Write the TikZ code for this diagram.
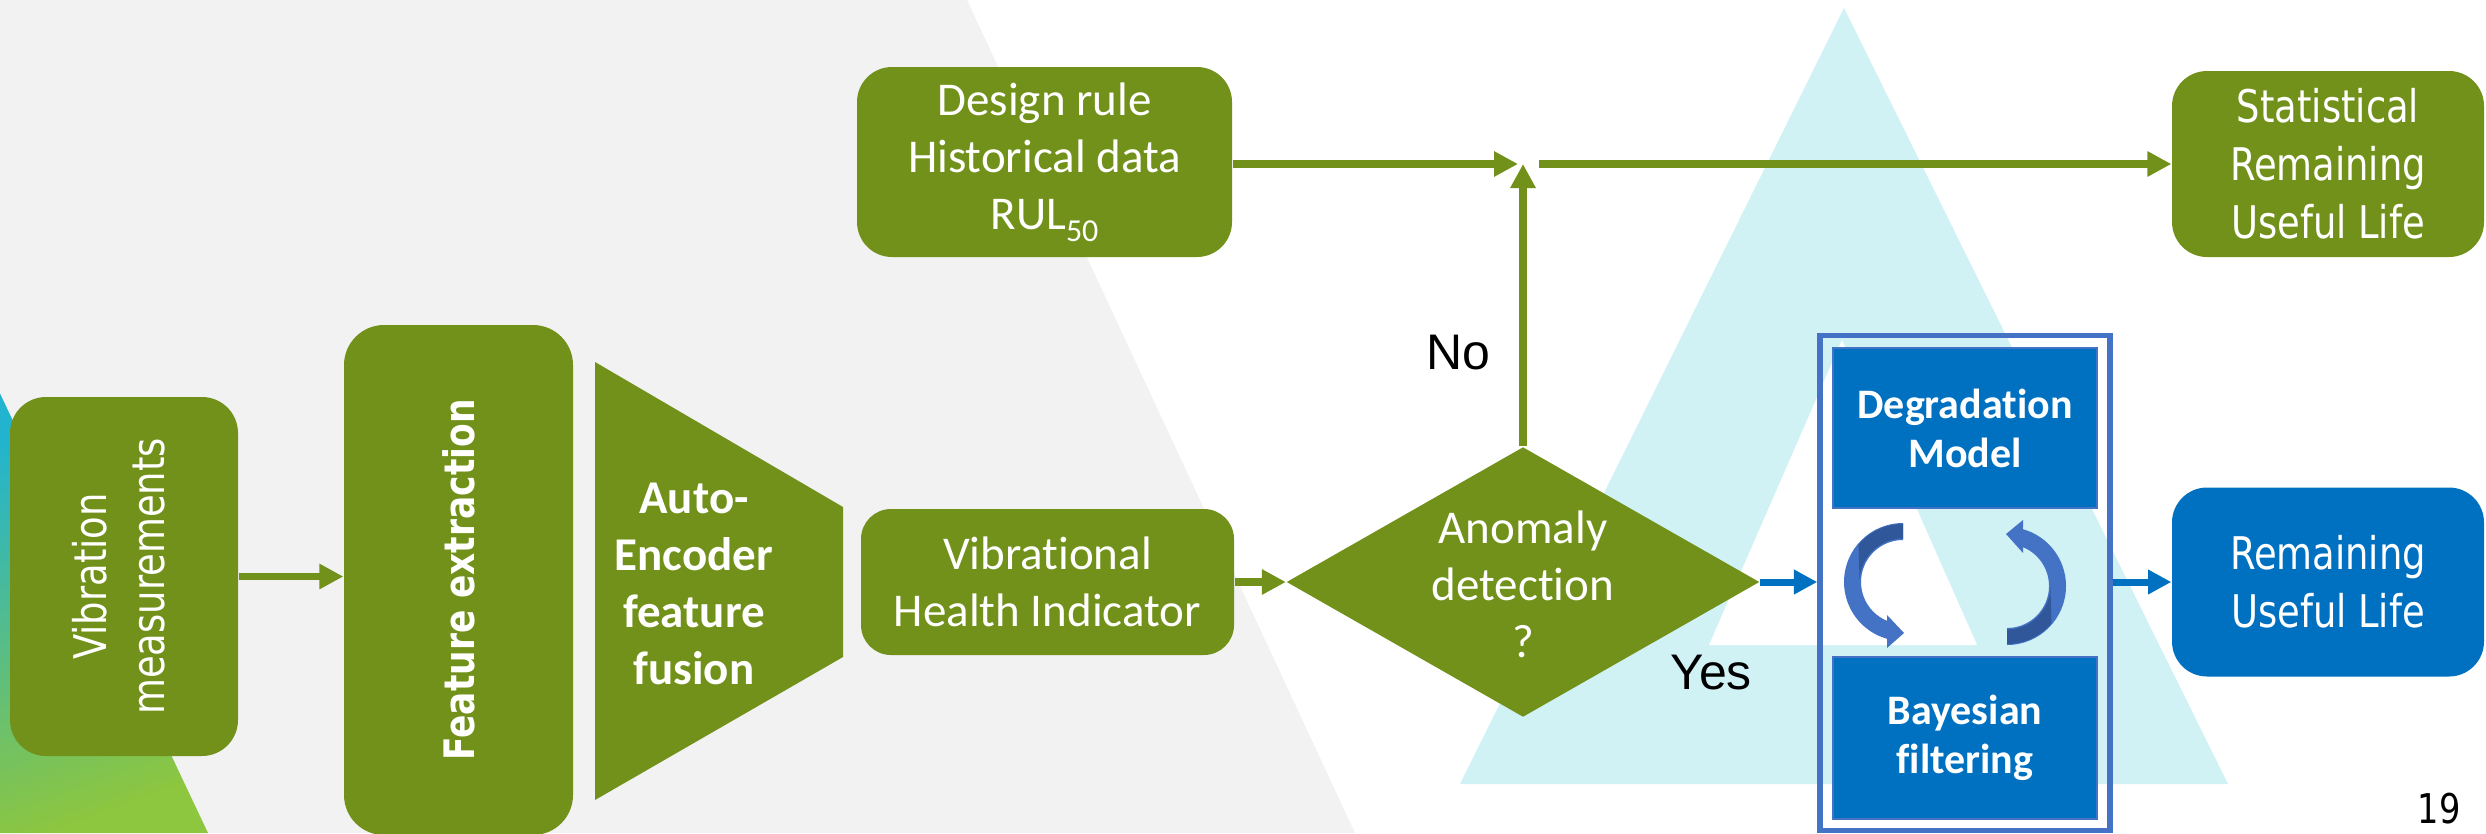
\documentclass[tikz,border=0pt]{standalone}
\usepackage{fontspec}
\setmainfont{Carlito}[Ligatures=CommonOff]
\newfontfamily\tahomalike[FakeStretch=0.82]{DejaVu Sans}
\newfontfamily\arialike{Liberation Sans}
\usetikzlibrary{arrows.meta,shapes.geometric}

\definecolor{leafgreen}{HTML}{72911A}
\definecolor{ocean}{HTML}{0070C0}
\definecolor{frameblue}{HTML}{4472C4}
\definecolor{darkribbon}{HTML}{30579A}
\definecolor{paper}{HTML}{F2F2F2}
\definecolor{skycyan}{HTML}{D1F2F5}
\definecolor{tealtone}{HTML}{22B4CE}
\definecolor{limetone}{HTML}{8DC63F}

\begin{document}
\begin{tikzpicture}[x=0.3pt,y=-0.3pt,
  calib/.style={font=\fontsize{14.1}{17.1}\selectfont},
  wide/.style={font=\tahomalike\fontsize{13.5}{17.4}\selectfont},
  greenbox/.style={fill=leafgreen, text=white, align=center, inner sep=0pt},
  bluebox/.style={fill=ocean, text=white, align=center, inner sep=0pt},
  garrow/.style={draw=leafgreen, line width=2.25pt, -{Triangle[length=7.2pt,width=7.2pt]}},
  barrow/.style={draw=ocean, line width=2.1pt, -{Triangle[length=7pt,width=7pt]}},
  modelbox/.style={fill=ocean, draw=frameblue, line width=0.6pt, text=white, align=center,
    inner sep=0pt, minimum width=79.2pt, font=\bfseries\fontsize{12.6}{14.7}\selectfont},
  caption/.style={font=\arialike\fontsize{15}{18}\selectfont, inner sep=0pt}
]
% canvas
\useasboundingbox (0,0) rectangle (2486,833);
\fill[white] (0,0) rectangle (2486,833);

% background decoration
\fill[paper] (0,0) -- (967,0) -- (1355,833) -- (0,833) -- cycle;
\shade[top color=tealtone, bottom color=limetone, shading angle=20]
  (-4,385) -- (208,833) -- (-4,833) -- cycle;
\fill[skycyan] (1844,8) -- (2228,784) -- (1460,784) -- cycle;
\fill[white] (1842,340) -- (1977,645) -- (1709,645) -- cycle;

% left chain
\node[greenbox, rounded corners=10.8pt, minimum width=68.4pt, minimum height=107.7pt] (vib) at (124,576.5)
  {\rotatebox{90}{\tahomalike\fontsize{13.5}{17.4}\selectfont\begin{tabular}{@{}c@{}}Vibration\\measurements\end{tabular}}};
\node[greenbox, rounded corners=12pt, minimum width=68.7pt, minimum height=153pt] (feat) at (458.5,580)
  {\rotatebox{90}{\tahomalike\bfseries\fontsize{12.6}{15}\selectfont Feature extraction}};
\fill[leafgreen] (595,362) -- (843,507) -- (843,657) -- (595,800) -- cycle;
\node[calib, text=white, align=center, inner sep=0pt] (ae) at (694,584)
  {\bfseries Auto-\\\bfseries Encoder\\\bfseries feature\\\bfseries fusion};
\node[greenbox, calib, rounded corners=9pt, minimum width=111.9pt, minimum height=43.8pt] (vhi) at (1047.5,582)
  {Vibrational\\Health Indicator};

% decision
\node[diamond, fill=leafgreen, minimum width=141.9pt, minimum height=81pt, inner sep=0pt] (dia) at (1523,582) {};
\node[calib, text=white, align=center, inner sep=0pt] (diatext) at (1523,584) {Anomaly\\detection\\?};

% statistical branch
\node[greenbox, calib, rounded corners=10.5pt, minimum width=112.5pt, minimum height=57pt] (design) at (1044.5,162)
  {Design rule\\Historical data\\RUL\raisebox{-3.6pt}{\fontsize{9.6}{10}\selectfont 50}};
\node[greenbox, wide, rounded corners=10.5pt, minimum width=93.6pt, minimum height=55.8pt] (stat) at (2328,164)
  {Statistical\\Remaining\\Useful Life};

% model-based branch
\node[draw=frameblue, line width=1.65pt, minimum width=87pt, minimum height=148.5pt, inner sep=0pt] (frame) at (1965,583) {};
\node[modelbox, minimum height=48pt] (deg) at (1965,428) {Degradation\\Model};
\node[modelbox, minimum height=48.6pt] (bay) at (1965,738) {Bayesian\\filtering};

% update loop arrows
\begin{scope}[shift={(1903,582)}]
  \fill[frameblue] (270:59) arc[start angle=270,end angle=105.7,radius=59] -- (-16,66) -- (1,51)
    -- (-16,33) -- (112.4:42) arc[start angle=112.4,end angle=270,radius=42] -- cycle;
  \fill[darkribbon] (270:58) arc[start angle=270,end angle=220,radius=58] -- (182:43.5)
    arc[start angle=182,end angle=270,radius=43.5] -- cycle;
\end{scope}
\begin{scope}[shift={(2007,586)}]
  \fill[frameblue] (90:59) arc[start angle=90,end angle=-74.3,radius=59] -- (16,-66) -- (-1,-52)
    -- (16,-33) -- (-67.6:42) arc[start angle=-67.6,end angle=90,radius=42] -- cycle;
  \fill[darkribbon] (90:58) arc[start angle=90,end angle=40,radius=58] -- (2:43.5)
    arc[start angle=2,end angle=90,radius=43.5] -- cycle;
\end{scope}

\node[bluebox, wide, rounded corners=10.5pt, minimum width=93.6pt, minimum height=56.7pt] (rul) at (2328,582)
  {Remaining\\Useful Life};

% connectors
\coordinate (join) at (1523,164);
\coordinate (joinout) at (1539,164);
\draw[garrow] (vib.east) -- (vib.east -| feat.west);
\draw[garrow] (vhi.east) -- (dia.west);
\draw[garrow, shorten >=1.5pt] (design.east |- join) -- (join);
\draw[garrow] (dia.north) -- (join);
\draw[garrow] (joinout) -- (stat.west);
\draw[barrow] (dia.east) -- (dia.east -| frame.west);
\draw[barrow] (frame.east |- rul.west) -- (rul.west);

% labels
\node[caption] (nolab) at (1458,353) {No};
\node[caption] (yeslab) at (1711,673) {Yes};
\node[font=\tahomalike\fontsize{12.3}{14}\selectfont, inner sep=0pt] (pagenum) at (2439,809) {19};
\end{tikzpicture}
\end{document}
